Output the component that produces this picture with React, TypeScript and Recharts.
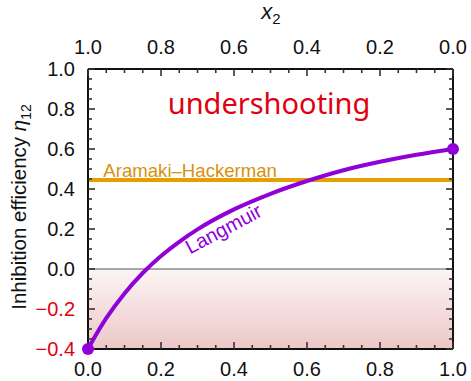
import React from 'react';
import {
  ComposedChart,
  Line,
  XAxis,
  YAxis,
  ReferenceLine,
  ReferenceArea,
  ReferenceDot,
  Label,
} from 'recharts';

// Langmuir curve (x1 on bottom axis, eta12 values)
const X1 = [0, 0.02, 0.05, 0.1, 0.15, 0.2, 0.25, 0.3, 0.4, 0.5, 0.6, 0.7, 0.8, 0.9, 1.0];
const ETA12 = [-0.4, -0.335, -0.246, -0.122, -0.02, 0.065, 0.136, 0.198, 0.298, 0.376, 0.44, 0.494, 0.536, 0.571, 0.6];

// Aramaki–Hackerman constant (x2 on top axis)
const AH_X2 = [1, 0];
const AH_ETA = [0.445, 0.445];

const X_TICKS = [0, 0.2, 0.4, 0.6, 0.8, 1.0];
const X_ALL = [0, 0.05, 0.1, 0.15, 0.2, 0.25, 0.3, 0.35, 0.4, 0.45, 0.5, 0.55, 0.6, 0.65, 0.7, 0.75, 0.8, 0.85, 0.9, 0.95, 1.0];
const Y_TICKS = [-0.4, -0.2, 0, 0.2, 0.4, 0.6, 0.8, 1.0];
const Y_ALL = [-0.4, -0.35, -0.3, -0.25, -0.2, -0.15, -0.1, -0.05, 0, 0.05, 0.1, 0.15, 0.2, 0.25, 0.3, 0.35, 0.4, 0.45, 0.5, 0.55, 0.6, 0.65, 0.7, 0.75, 0.8, 0.85, 0.9, 0.95, 1.0];

const X_DOMAIN: [number, number] = [0, 1];
const Y_DOMAIN: [number, number] = [-0.4, 1];

const langmuirData = X1.map((x, i) => ({ x1: x, eta: ETA12[i] }));
const ahData = AH_X2.map((x, i) => ({ x2: x, eta: AH_ETA[i] }));

const PURPLE = '#9000d8';
const ORANGE = '#e69f00';
const ORANGE_TEXT = '#d4920e';
const RED = '#e00010';
const FONT = '"Liberation Sans", Arial, sans-serif';

const MAJOR_LEN = 7;
const MINOR_LEN = 4;
const TICK_STROKE = '#333';
const TICK_W = 1.6;
const FRAME = { stroke: '#111', strokeWidth: 2 };

const isMajor = (list: number[], v: number) => list.some((m) => Math.abs(m - v) < 1e-9);

const BottomLabel = (props: any) => {
  const { x, y, payload } = props;
  const v = payload.value as number;
  return (
    <text x={x} y={y} dy="0.71em" textAnchor="middle" fontSize={20} fontFamily={FONT} fill="#111">
      {v.toFixed(1)}
    </text>
  );
};

const TopLabelTick = (props: any) => {
  const { x, y, payload } = props;
  const v = payload.value as number;
  return (
    <text x={x} y={y} textAnchor="middle" fontSize={20} fontFamily={FONT} fill="#111">
      {v.toFixed(1)}
    </text>
  );
};

const LeftLabel = (props: any) => {
  const { x, y, payload } = props;
  const v = payload.value as number;
  return (
    <text x={x} y={y} dy="0.355em" textAnchor="end" fontSize={20} fontFamily={FONT} fill={v < 0 ? RED : '#111'}>
      {v < 0 ? '\u2212' + Math.abs(v).toFixed(1) : v.toFixed(1)}
    </text>
  );
};

const dotRenderer = (p: any) => {
  const last = langmuirData.length - 1;
  if (p.index === 0 || p.index === last) {
    return <circle key={p.index} cx={p.cx} cy={p.cy} r={6} fill={PURPLE} stroke="none" />;
  }
  return <g key={p.index} />;
};

const YLabel = () => {
  const cx = 26;
  const cy = 207;
  return (
    <text x={cx} y={cy} transform={`rotate(-90, ${cx}, ${cy})`} textAnchor="middle" fontSize={20.5} fontFamily={FONT} fill="#111">
      Inhibition efficiency <tspan fontStyle="italic">η</tspan>
      <tspan fontSize={14} dy={5}>12</tspan>
    </text>
  );
};

const TopLabel = () => {
  return (
    <text x={271} y={19} textAnchor="middle" fontSize={22} fontFamily={FONT} fill="#111">
      <tspan fontStyle="italic">x</tspan>
      <tspan fontSize={15} dy={5}>2</tspan>
    </text>
  );
};

// inward tick mark drawn from a reference point on the frame
const tickMark = (dx: number, dy: number) => (p: any) => (
  <path d={`M${p.cx},${p.cy}l${dx},${dy}`} stroke={TICK_STROKE} strokeWidth={TICK_W} fill="none" />
);

function frameTicks() {
  const out: React.ReactNode[] = [];
  X_ALL.forEach((v) => {
    const len = isMajor(X_TICKS, v) ? MAJOR_LEN : MINOR_LEN;
    out.push(
      <ReferenceDot key={'tb' + v} xAxisId="b" yAxisId="l" x={v} y={Y_DOMAIN[0]} r={0} ifOverflow="visible" shape={tickMark(0, -len)} />
    );
    out.push(
      <ReferenceDot key={'tt' + v} xAxisId="b" yAxisId="l" x={v} y={Y_DOMAIN[1]} r={0} ifOverflow="visible" shape={tickMark(0, len)} />
    );
  });
  Y_ALL.forEach((v) => {
    const len = isMajor(Y_TICKS, v) ? MAJOR_LEN : MINOR_LEN;
    out.push(
      <ReferenceDot key={'tl' + v} xAxisId="b" yAxisId="l" x={X_DOMAIN[0]} y={v} r={0} ifOverflow="visible" shape={tickMark(len, 0)} />
    );
    out.push(
      <ReferenceDot key={'tr' + v} xAxisId="b" yAxisId="l" x={X_DOMAIN[1]} y={v} r={0} ifOverflow="visible" shape={tickMark(-len, 0)} />
    );
  });
  return out;
}

export default function App() {
  return (
    <div style={{ position: 'absolute', left: 0, top: 0 }}>
      <ComposedChart width={471} height={381} margin={{ top: 0, right: 0, bottom: 0, left: 0 }}>
        <defs>
          <linearGradient id="pinkGrad" x1="0" y1="0" x2="0" y2="1">
            <stop offset="0%" stopColor="#fcf3f3" />
            <stop offset="100%" stopColor="#e9bdbd" />
          </linearGradient>
        </defs>
        <XAxis
          xAxisId="b"
          type="number"
          dataKey="x1"
          domain={X_DOMAIN}
          ticks={X_TICKS}
          interval={0}
          tickLine={false}
          axisLine={FRAME}
          tickSize={0}
          tickMargin={13}
          height={32}
          tick={<BottomLabel />}
          orientation="bottom"
        />
        <XAxis
          xAxisId="t"
          type="number"
          dataKey="x2"
          domain={X_DOMAIN}
          reversed
          ticks={X_TICKS}
          interval={0}
          tickLine={false}
          axisLine={FRAME}
          tickSize={0}
          tickMargin={15}
          height={69}
          tick={<TopLabelTick />}
          orientation="top"
          label={<Label content={TopLabel} />}
        />
        <YAxis
          yAxisId="l"
          type="number"
          domain={Y_DOMAIN}
          ticks={Y_TICKS}
          interval={0}
          tick={<LeftLabel />}
          tickLine={false}
          axisLine={FRAME}
          tickSize={0}
          tickMargin={13}
          width={88}
          orientation="left"
          label={<Label content={YLabel} />}
        />
        <YAxis
          yAxisId="r"
          type="number"
          domain={Y_DOMAIN}
          ticks={Y_TICKS}
          tick={false}
          tickLine={false}
          axisLine={FRAME}
          width={18}
          orientation="right"
        />
        <ReferenceArea xAxisId="b" yAxisId="l" x1={0} x2={1} y1={-0.4} y2={0} fill="url(#pinkGrad)" fillOpacity={0.85} stroke="none" />
        <ReferenceLine xAxisId="b" yAxisId="l" y={0} stroke="#555" strokeWidth={1} />
        {frameTicks()}
        <Line
          xAxisId="t"
          yAxisId="l"
          data={ahData}
          dataKey="eta"
          stroke={ORANGE}
          strokeWidth={4}
          dot={false}
          isAnimationActive={false}
          type="linear"
        />
        <Line
          xAxisId="b"
          yAxisId="l"
          data={langmuirData}
          dataKey="eta"
          stroke={PURPLE}
          strokeWidth={4}
          dot={dotRenderer}
          activeDot={false}
          isAnimationActive={false}
          type="monotone"
        />
        <ReferenceDot
          xAxisId="b"
          yAxisId="l"
          x={0.496}
          y={0.774}
          r={0}
          shape={(p: any) => (
            <text x={p.cx} y={p.cy} textAnchor="middle" fontSize={29} fontFamily='"Noto Sans", sans-serif' fill={RED}>
              undershooting
            </text>
          )}
        />
        <ReferenceDot
          xAxisId="b"
          yAxisId="l"
          x={0.042}
          y={0.4615}
          r={0}
          shape={(p: any) => (
            <text x={p.cx} y={p.cy} textAnchor="start" fontSize={18.6} fontFamily={FONT} fill={ORANGE_TEXT}>
              Aramaki–Hackerman
            </text>
          )}
        />
        <ReferenceDot
          xAxisId="b"
          yAxisId="l"
          x={0.38}
          y={0.17}
          r={0}
          shape={(p: any) => (
            <text
              x={p.cx}
              y={p.cy}
              textAnchor="middle"
              fontSize={20}
              fontFamily={FONT}
              fill={PURPLE}
              transform={`rotate(-28, ${p.cx}, ${p.cy})`}
            >
              Langmuir
            </text>
          )}
        />
      </ComposedChart>
    </div>
  );
}
